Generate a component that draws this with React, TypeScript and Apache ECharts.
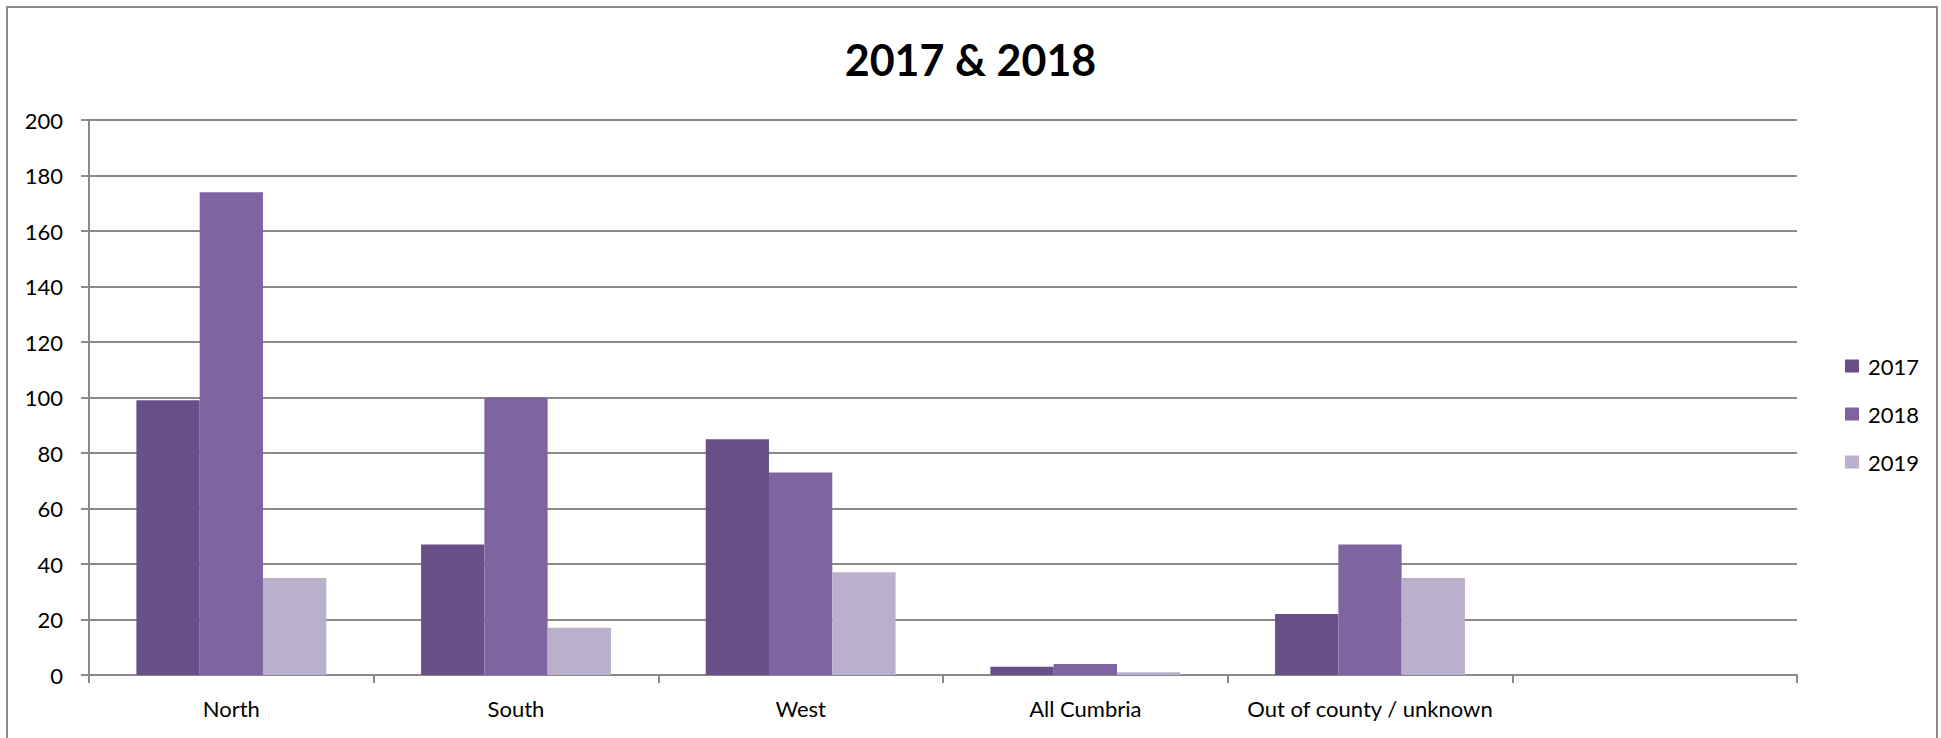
import React, { useEffect, useRef } from "react";
import * as echarts from "echarts";

const categories = ["North", "South", "West", "All Cumbria", "Out of county / unknown", ""];
const seriesNames = ["2017", "2018", "2019"];
const values2017 = [99, 47, 85, 3, 22, null];
const values2018 = [174, 100, 73, 4, 47, null];
const values2019 = [35, 17, 37, 1, 35, null];
const colors = ["#694F87", "#8064A1", "#BAB0CB"];
const yTicks = { min: 0, max: 200, interval: 20 };

export default function App() {
  const ref = useRef<HTMLDivElement>(null);
  useEffect(() => {
    document.body.style.margin = "0";
    if (!ref.current) return;
    const chart = echarts.init(ref.current, null, { renderer: "svg" });
    const font = "Lato, 'Open Sans', sans-serif";
    const gridColor = "#8a8a8a";
    const seriesData = [values2017, values2018, values2019];
    chart.setOption({
      animation: false,
      backgroundColor: "#ffffff",
      title: {
        text: "2017 & 2018",
        left: "center",
        top: 33,
        textStyle: { fontFamily: font, fontWeight: "bold", fontSize: 43, color: "#000" },
      },
      legend: {
        orient: "vertical",
        left: 1840,
        top: 350,
        itemWidth: 14,
        itemHeight: 13,
        itemGap: 26,
        icon: "rect",
        data: seriesNames,
        textStyle: { fontFamily: font, fontSize: 22, color: "#000", padding: [0, 0, 0, 4] },
      },
      graphic: [
        {
          type: "rect",
          shape: { x: 7, y: 7, width: 1930, height: 800 },
          style: { fill: "none", stroke: "#8a8a8a", lineWidth: 2 },
          silent: true,
        },
      ],
      grid: { left: 89, top: 120, right: 144, bottom: 63, containLabel: false },
      xAxis: {
        type: "category",
        data: categories,
        boundaryGap: true,
        axisLine: { show: true, lineStyle: { color: gridColor, width: 2 } },
        axisTick: { show: true, length: 8, lineStyle: { color: gridColor, width: 2 } },
        axisLabel: { fontFamily: font, fontSize: 22, color: "#000", margin: 22, interval: 0 },
        splitLine: { show: false },
      },
      yAxis: {
        type: "value",
        min: yTicks.min,
        max: yTicks.max,
        interval: yTicks.interval,
        axisLine: { show: true, lineStyle: { color: gridColor, width: 2 } },
        axisTick: { show: true, length: 8, lineStyle: { color: gridColor, width: 2 } },
        axisLabel: { fontFamily: font, fontSize: 22, color: "#000", margin: 26 },
        splitLine: { show: true, lineStyle: { color: gridColor, width: 2 } },
      },
      series: seriesNames.map((name, i) => ({
        name,
        type: "bar",
        data: seriesData[i],
        barGap: "0%",
        barCategoryGap: "33.3%",
        itemStyle: { color: colors[i] },
      })),
    });
    return () => chart.dispose();
  }, []);
  return <div ref={ref} style={{ width: 1941, height: 738 }} />;
}
